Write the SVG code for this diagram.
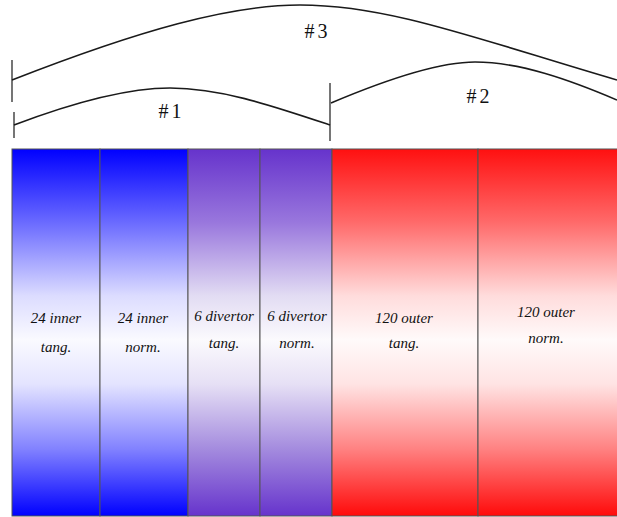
<svg xmlns="http://www.w3.org/2000/svg" width="617" height="517" viewBox="0 0 617 517">
<defs>
<linearGradient id="gb" x1="0" y1="0" x2="0" y2="1">
<stop offset="0" stop-color="#0000ff"/><stop offset="0.2" stop-color="#6a6aff"/><stop offset="0.4" stop-color="#dcdcff"/><stop offset="0.52" stop-color="#fafaff"/><stop offset="0.64" stop-color="#e4e4ff"/><stop offset="0.82" stop-color="#8080ff"/><stop offset="1" stop-color="#0000ff"/>
</linearGradient>
<linearGradient id="gp" x1="0" y1="0" x2="0" y2="1">
<stop offset="0" stop-color="#6633cc"/><stop offset="0.2" stop-color="#9977dd"/><stop offset="0.4" stop-color="#e2dcf3"/><stop offset="0.52" stop-color="#fbfafd"/><stop offset="0.64" stop-color="#e6e0f5"/><stop offset="0.82" stop-color="#a38ade"/><stop offset="1" stop-color="#6633cc"/>
</linearGradient>
<linearGradient id="gr" x1="0" y1="0" x2="0" y2="1">
<stop offset="0" stop-color="#ff1010"/><stop offset="0.2" stop-color="#ff6a6a"/><stop offset="0.4" stop-color="#ffdcdc"/><stop offset="0.52" stop-color="#fffafa"/><stop offset="0.64" stop-color="#ffe4e4"/><stop offset="0.82" stop-color="#ff8080"/><stop offset="1" stop-color="#ff0a0a"/>
</linearGradient>
<style>
.c{fill:none;stroke:#1a1a1a;stroke-width:1.6}
.t{stroke:#1a1a1a;stroke-width:1.2}
.p{stroke:#555;stroke-width:1}
.l{font-family:"Liberation Serif",serif;font-style:italic;font-size:15px;fill:#111;text-anchor:middle}
.h{font-family:"Liberation Serif",serif;font-size:20px;fill:#111;text-anchor:middle}
</style>
</defs>
<rect width="617" height="517" fill="#fff"/>
<g id="connectors">
<line class="t" x1="12" y1="60" x2="12" y2="102"/>
<path class="c" d="M12,80 C140,30 230,5 300,5 C390,5 480,40 617,80"/>
<line class="t" x1="14" y1="112" x2="14" y2="138"/>
<path class="c" d="M14,125 C80,100 130,88 170,88 C220,88 270,105 330,125"/>
<line class="t" x1="330" y1="83" x2="330" y2="141"/>
<path class="c" d="M331,103 C390,78 440,62 475,62 C520,62 570,80 617,100"/>
</g>
<g id="label3"><text class="h" x="316" y="38">#<tspan dx="3">3</tspan></text></g>
<g id="label1"><text class="h" x="170" y="118">#<tspan dx="3">1</tspan></text></g>
<g id="label2"><text class="h" x="478" y="103">#<tspan dx="3">2</tspan></text></g>
<g id="inner-tang">
<rect class="p" x="12" y="149" width="88" height="367" fill="url(#gb)"/>
<text class="l" x="56" y="323">24 inner</text><text class="l" x="56" y="352">tang.</text>
</g>
<g id="inner-norm">
<rect class="p" x="100" y="149" width="88" height="367" fill="url(#gb)"/>
<text class="l" x="143" y="323">24 inner</text><text class="l" x="143" y="352">norm.</text>
</g>
<g id="divertor-tang">
<rect class="p" x="188" y="149" width="72" height="367" fill="url(#gp)"/>
<text class="l" x="224" y="321">6 divertor</text><text class="l" x="224" y="348">tang.</text>
</g>
<g id="divertor-norm">
<rect class="p" x="260" y="149" width="72" height="367" fill="url(#gp)"/>
<text class="l" x="297" y="321">6 divertor</text><text class="l" x="297" y="348">norm.</text>
</g>
<g id="outer-tang">
<rect class="p" x="332" y="149" width="146" height="367" fill="url(#gr)"/>
<text class="l" x="404" y="323">120 outer</text><text class="l" x="404" y="348">tang.</text>
</g>
<g id="outer-norm">
<rect class="p" x="478" y="149" width="145" height="367" fill="url(#gr)"/>
<text class="l" x="546" y="317">120 outer</text><text class="l" x="546" y="343">norm.</text>
</g>
</svg>
